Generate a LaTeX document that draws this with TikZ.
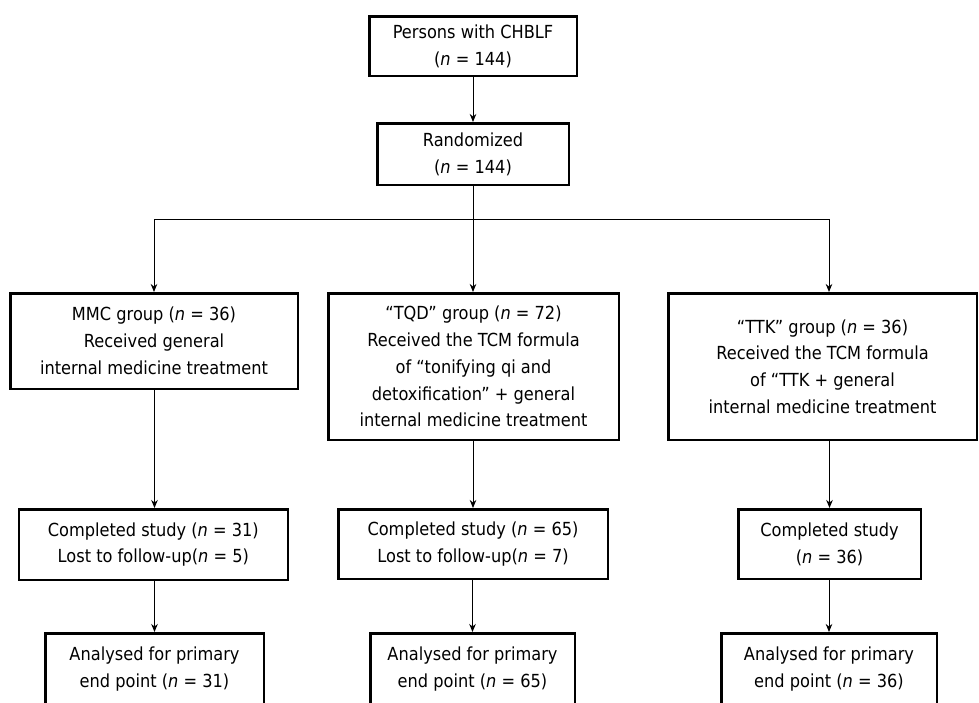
\documentclass[tikz,border=0pt]{standalone}
\usepackage{fontspec}
\setmainfont{DejaVu Sans}[FakeStretch=0.9]
\usetikzlibrary{arrows.meta}
\begin{document}
\begin{tikzpicture}[x=1pt,y=-1pt,
  box/.style={draw, line width=2.5pt, align=center, inner sep=0pt, font=\fontsize{18}{26.8}\selectfont},
  arr/.style={line width=1pt, -{Stealth[length=8pt,width=6.5pt,inset=2.5pt]}},
  ln/.style={line width=1pt}]
\useasboundingbox (0,0) rectangle (979,702);
\clip (0,0) rectangle (979,702);
\fill[white] (0,0) rectangle (979,702);

\node[box, minimum width=207.5pt, minimum height=59.5pt] (persons) at (473,46) {Persons with CHBLF\\(\textit{n} = 144)};
\node[box, minimum width=191.5pt, minimum height=61.5pt] (rand) at (473,154) {Randomized\\(\textit{n} = 144)};

\node[box, minimum width=287.5pt, minimum height=95.5pt] (mmc) at (154,341) {MMC group (\textit{n} = 36)\\Received general\\internal medicine treatment};
\node[box, minimum width=290.5pt, minimum height=146.5pt] (tqd) at (473.5,366.5) {“TQD” group (\textit{n} = 72)\\Received the TCM formula\\of “tonifying qi and\\detoxification” + general\\internal medicine treatment};
\node[box, minimum width=308.5pt, minimum height=146.5pt] (ttk) at (822.5,366.5) {“TTK” group (\textit{n} = 36)\\Received the TCM formula\\of “TTK + general\\internal medicine treatment};

\node[box, minimum width=269pt, minimum height=70.5pt] (mmcdone) at (153.3,544.5) {Completed study (\textit{n} = 31)\\Lost to follow-up(\textit{n} = 5)};
\node[box, minimum width=269.5pt, minimum height=69.5pt] (tqddone) at (473,544) {Completed study (\textit{n} = 65)\\Lost to follow-up(\textit{n} = 7)};
\node[box, minimum width=182.5pt, minimum height=69.5pt] (ttkdone) at (829.5,544) {Completed study\\(\textit{n} = 36)};

\node[box, minimum width=218.5pt, minimum height=71.5pt] (mmcan) at (154.5,669) {Analysed for primary\\end point (\textit{n} = 31)};
\node[box, minimum width=204.5pt, minimum height=71.5pt] (tqdan) at (472.5,669) {Analysed for primary\\end point (\textit{n} = 65)};
\node[box, minimum width=215.5pt, minimum height=71.5pt] (ttkan) at (829,669) {Analysed for primary\\end point (\textit{n} = 36)};

\coordinate (hub) at (473,219);
\coordinate (hubL) at (154,219);
\coordinate (hubR) at (829,219);

\draw[arr] (persons) -- (rand);
\draw[ln] (rand) -- (hub);
\draw[ln] (hubL) -- (hubR);
\draw[arr] (hubL) -- (hubL |- mmc.north);
\draw[arr] (hub) -- (hub |- tqd.north);
\draw[arr] (hubR) -- (hubR |- ttk.north);

\draw[arr] (mmc.south -| mmcan) -- (mmcan |- mmcdone.north);
\draw[arr] (tqd.south -| tqddone) -- (tqddone.north);
\draw[arr] (ttk.south -| ttkdone) -- (ttkdone.north);

\draw[arr] (mmcdone.south -| mmcan) -- (mmcan.north);
\draw[arr] (tqddone.south -| tqdan) -- (tqdan.north);
\draw[arr] (ttkdone.south -| ttkan) -- (ttkan.north);
\end{tikzpicture}
\end{document}
